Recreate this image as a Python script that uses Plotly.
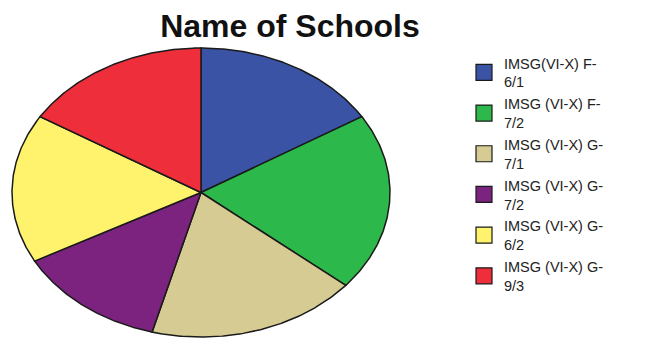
import numpy as np
import plotly.graph_objects as go

# Schools and number of respondents per school
schools = [
    "IMSG(VI-X) F-6/1",
    "IMSG (VI-X) F-7/2",
    "IMSG (VI-X) G-7/1",
    "IMSG (VI-X) G-7/2",
    "IMSG (VI-X) G-6/2",
    "IMSG (VI-X) G-9/3",
]
legend_labels = [
    "IMSG(VI-X) F-<br>6/1",
    "IMSG (VI-X) F-<br>7/2",
    "IMSG (VI-X) G-<br>7/1",
    "IMSG (VI-X) G-<br>7/2",
    "IMSG (VI-X) G-<br>6/2",
    "IMSG (VI-X) G-<br>9/3",
]
counts = [35, 43, 39, 28, 36, 35]
colors = ["#3a53a4", "#2db84b", "#d6cc93", "#7b237e", "#fff36e", "#ee2e3a"]

W, H = 662, 339
EDGE = "#1a1a1a"

fig = go.Figure()

# Slices: clockwise from 12 o'clock, drawn in unit data space; the axis
# domains give the pie its wide elliptical shape.
total = float(sum(counts))
cum = 0.0
for name, lab, val, col in zip(schools, legend_labels, counts, colors):
    a0 = cum / total * 2 * np.pi
    a1 = (cum + val) / total * 2 * np.pi
    cum += val
    t = np.linspace(a0, a1, 120)
    xs = np.concatenate([[0.0], np.sin(t), [0.0]])
    ys = np.concatenate([[0.0], np.cos(t), [0.0]])
    pct = val / total * 100
    fig.add_trace(go.Scatter(
        x=xs, y=ys, mode="lines", fill="toself", fillcolor=col,
        line=dict(color=EDGE, width=1.5),
        name=name, legendgroup=name, showlegend=False,
        hoveron="fills", hoverinfo="text",
        text=f"{name}: {val} ({pct:.1f}%)",
    ))
    # legend swatch for the slice
    fig.add_trace(go.Scatter(
        x=[None], y=[None], mode="markers",
        marker=dict(symbol="square", size=16, color=col,
                    line=dict(color=EDGE, width=1.2)),
        name=lab, legendgroup=name, showlegend=True,
    ))

pad = 1.01
# pie bounding box in pixels
left, right, top, bottom = 12, 390, 48, 337
cx, cy = (left + right) / 2, (top + bottom) / 2
rx, ry = (right - left) / 2 * pad, (bottom - top) / 2 * pad

fig.update_xaxes(visible=False, range=[-pad, pad],
                 domain=[(cx - rx) / W, (cx + rx) / W], fixedrange=True)
fig.update_yaxes(visible=False, range=[-pad, pad],
                 domain=[1 - (cy + ry) / H, 1 - (cy - ry) / H], fixedrange=True)

fig.update_layout(
    width=W, height=H, autosize=False,
    margin=dict(l=0, r=0, t=0, b=0),
    paper_bgcolor="white", plot_bgcolor="white",
    title=dict(
        text="<b>Name of Schools</b>",
        font=dict(family="Liberation Sans, Arial, sans-serif", size=32, color="#111111"),
        x=290 / W, xanchor="center", xref="container",
        y=1 - 26 / H, yanchor="middle", yref="container",
    ),
    legend=dict(
        x=464 / W, xanchor="left", y=1 - 47 / H, yanchor="top",
        font=dict(family="Liberation Sans, Arial, sans-serif", size=14.5, color="#222222"),
        bgcolor="rgba(0,0,0,0)", tracegroupgap=0, itemclick=False,
    ),
    showlegend=True,
)

fig.write_html("out.html")
